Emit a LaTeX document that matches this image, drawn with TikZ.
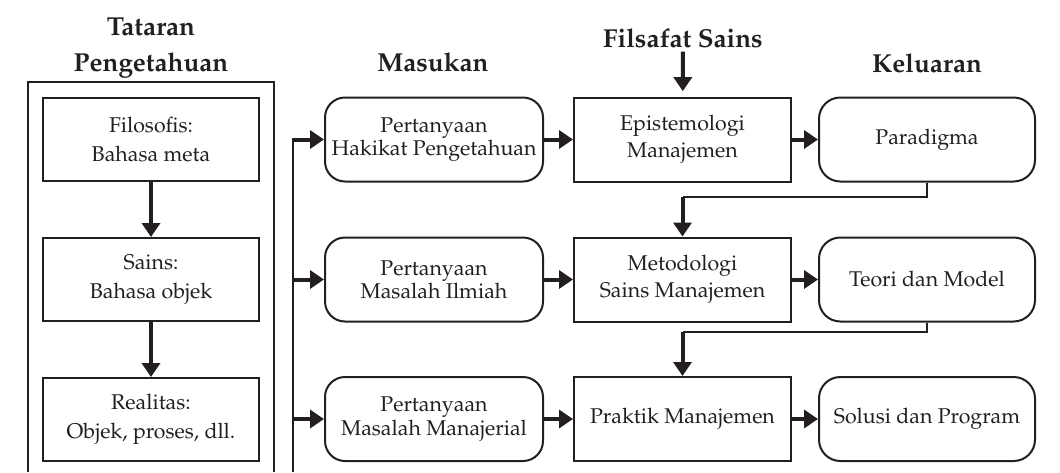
\documentclass[tikz,border=0pt]{standalone}
\usepackage[T1]{fontenc}
\usepackage{mathpazo}
\usetikzlibrary{arrows.meta}
\definecolor{ink}{RGB}{35,31,32}
\begin{document}
\begin{tikzpicture}[x=0.75pt,y=-0.75pt,
  every node/.style={text=ink},
  frame/.style={draw=ink, line width=1.5pt},
  levelbox/.style={draw=ink, line width=1.5pt, minimum width=162pt, minimum height=62.25pt,
    inner sep=0pt, align=center, font=\fontsize{16}{21.5}\selectfont},
  inbox/.style={draw=ink, line width=1.5pt, rounded corners=15pt, minimum width=163.5pt,
    minimum height=63pt, inner sep=0pt, align=center, font=\fontsize{16}{17.5}\selectfont},
  procbox/.style={draw=ink, line width=1.5pt, minimum width=162.75pt, minimum height=63pt,
    inner sep=0pt, align=center, font=\fontsize{16}{20}\selectfont},
  outbox/.style={draw=ink, line width=1.5pt, rounded corners=16pt, minimum width=162pt,
    minimum height=63pt, inner sep=0pt, align=center, font=\fontsize{16}{20}\selectfont},
  heading/.style={anchor=base, inner sep=3pt, font=\fontsize{19.5}{24}\selectfont\bfseries},
  arr/.style={draw=ink, line width=3pt, -{Triangle[length=10.5pt,width=13.5pt]}},
  link/.style={draw=ink, line width=1.6pt},
]
\useasboundingbox (0,0) rectangle (1060,472);

% headings
\node[heading] (h1) at (151,35) {Tataran};
\node[heading] (h2) at (151,71) {Pengetahuan};
\node[heading] (hin) at (433,71) {Masukan};
\node[heading] (hfs) at (683,47) {Filsafat Sains};
\node[heading] (hout) at (927,72) {Keluaran};

% knowledge levels, open frame
\draw[frame] (28,472) -- (28,82) -- (274,82) -- (274,472);
\node[levelbox] (filo) at (151,139.5) {Filosofis:\\Bahasa meta};
\node[levelbox] (sains) at (151,279.5) {Sains:\\Bahasa objek};
\node[levelbox] (real) at (151,419.5) {Realitas:\\Objek, proses, dll.};
\draw[arr] (filo) -- (sains);
\draw[arr] (sains) -- (real);

% inputs
\node[inbox] (q1) at (434,139.5) {Pertanyaan\\Hakikat Pengetahuan};
\node[inbox] (q2) at (434,279.5) {Pertanyaan\\Masalah Ilmiah};
\node[inbox] (q3) at (434,419) {Pertanyaan\\Masalah Manajerial};

% process
\node[procbox] (epi) at (682.5,139.5) {Epistemologi\\Manajemen};
\node[procbox] (meto) at (682.5,279.5) {Metodologi\\Sains Manajemen};
\node[procbox] (prak) at (682.5,419) {Praktik Manajemen};

% outputs
\node[outbox] (para) at (927,139.5) {Paradigma};
\node[outbox] (teori) at (927,279.5) {Teori dan Model};
\node[outbox] (solusi) at (927,419) {Solusi dan Program};

% input trunk
\coordinate (trunk) at (293,138);
\coordinate (trunkend) at (293,472);
\draw[link] (trunk) -- (trunkend);
\draw[arr] (q1 -| trunk) -- (q1);
\draw[arr] (q2 -| trunk) -- (q2);
\draw[arr] (q3 -| trunk) -- (q3);

% row flows
\draw[arr] (q1) -- (epi);
\draw[arr] (epi) -- (para);
\draw[arr] (q2) -- (meto);
\draw[arr] (meto) -- (teori);
\draw[arr] (q3) -- (prak);
\draw[arr] (prak) -- (solusi);

% philosophy of science feeds epistemology
\draw[arr, shorten >=4pt] (hfs) -- (epi);

% feedback elbows
\coordinate (lvl1) at (0,197);
\coordinate (lvl2) at (0,332);
\draw[link] (para.south) |- (meto.north |- lvl1) coordinate (k1);
\draw[arr] (k1) -- (meto.north);
\draw[link] (teori.south) |- (prak.north |- lvl2) coordinate (k2);
\draw[arr] (k2) -- (prak.north);
\end{tikzpicture}
\end{document}
